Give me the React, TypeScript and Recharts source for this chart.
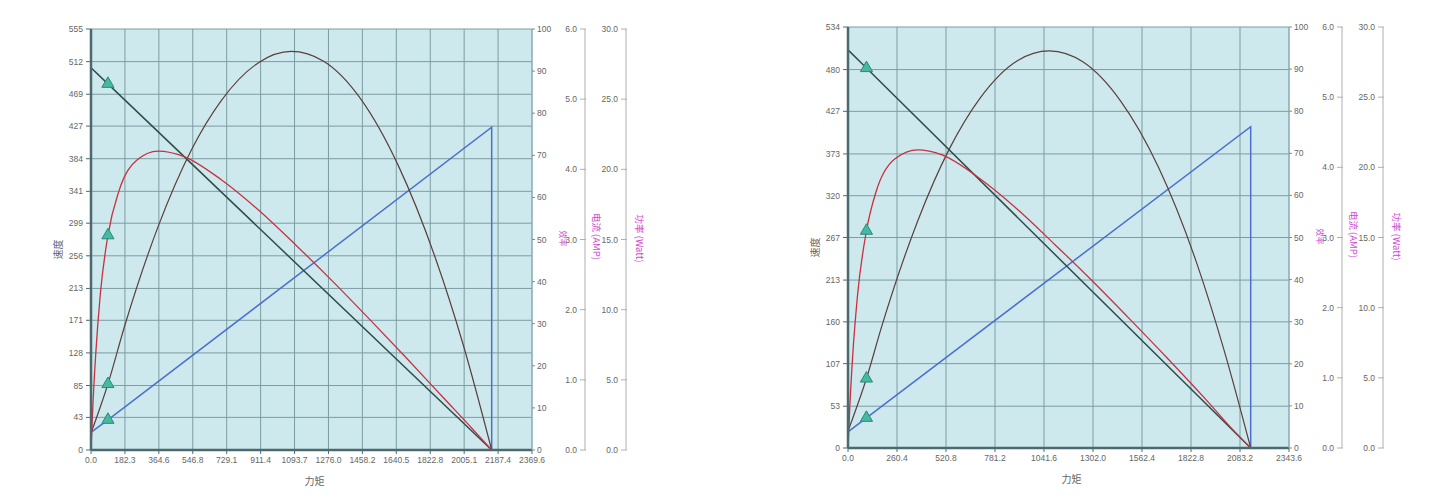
import React from "react";
import {
  ComposedChart,
  Line,
  Scatter,
  XAxis,
  YAxis,
  CartesianGrid,
  Label,
} from "recharts";

// shared right-hand scales
const effTicks = [0, 10, 20, 30, 40, 50, 60, 70, 80, 90, 100];
const currentTicks = [0, 1, 2, 3, 4, 5, 6];
const powerTicks = [0, 5, 10, 15, 20, 25, 30];

// ---- left chart ----
const torqueTicks1 = [0, 182.3, 364.6, 546.8, 729.1, 911.4, 1093.7, 1276.0, 1458.2, 1640.5, 1822.8, 2005.1, 2187.4, 2369.6];
const speedTicks1 = [0, 43, 85, 128, 171, 213, 256, 299, 341, 384, 427, 469, 512, 555];

const speed1 = [{ t: 0, v: 504 }, { t: 91, v: 482.7 }, { t: 2153, v: 0 }];
const current1 = [{ t: 0, v: 0.25 }, { t: 91, v: 0.43 }, { t: 2153, v: 4.6 }, { t: 2153, v: 0 }];
const eff1 = [
  { t: 0, v: 0 }, { t: 10, v: 10.5 }, { t: 25, v: 22.5 }, { t: 50, v: 37 },
  { t: 91, v: 51 }, { t: 150, v: 61.5 }, { t: 250, v: 69 }, { t: 360, v: 71 },
  { t: 500, v: 69.7 }, { t: 700, v: 64.2 }, { t: 900, v: 57 }, { t: 1100, v: 48.7 },
  { t: 1300, v: 40 }, { t: 1500, v: 30.9 }, { t: 1700, v: 21.6 }, { t: 1900, v: 12.1 },
  { t: 2050, v: 5 }, { t: 2153, v: 0 },
];
const power1 = [
  { t: 0, v: 1.2 }, { t: 91, v: 4.7 }, { t: 180, v: 8.8 }, { t: 360, v: 15.9 },
  { t: 540, v: 21.4 }, { t: 700, v: 24.9 }, { t: 900, v: 27.6 }, { t: 1076, v: 28.4 },
  { t: 1250, v: 27.7 }, { t: 1450, v: 25 }, { t: 1650, v: 20.3 }, { t: 1850, v: 13.7 },
  { t: 2000, v: 7.5 }, { t: 2153, v: 0 },
];
const marks1 = { speed: [{ t: 91, v: 482.7 }], eff: [{ t: 91, v: 51 }], power: [{ t: 91, v: 4.7 }], current: [{ t: 91, v: 0.43 }] };

// ---- right chart ----
const torqueTicks2 = [0, 260.4, 520.8, 781.2, 1041.6, 1302.0, 1562.4, 1822.8, 2083.2, 2343.6];
const speedTicks2 = [0, 53, 107, 160, 213, 267, 320, 373, 427, 480, 534];

const speed2 = [{ t: 0, v: 505 }, { t: 98, v: 481.9 }, { t: 2140, v: 0 }];
const current2 = [{ t: 0, v: 0.23 }, { t: 98, v: 0.43 }, { t: 2140, v: 4.58 }, { t: 2140, v: 0 }];
const eff2 = [
  { t: 0, v: 0 }, { t: 10, v: 10.2 }, { t: 25, v: 22 }, { t: 50, v: 36 },
  { t: 98, v: 51.6 }, { t: 150, v: 61 }, { t: 250, v: 68.7 }, { t: 371, v: 70.8 },
  { t: 500, v: 69.6 }, { t: 700, v: 64 }, { t: 900, v: 56.7 }, { t: 1100, v: 48.3 },
  { t: 1300, v: 39.6 }, { t: 1500, v: 30.5 }, { t: 1700, v: 21.2 }, { t: 1900, v: 11.6 },
  { t: 2040, v: 4.6 }, { t: 2140, v: 0 },
];
const power2 = [
  { t: 0, v: 1.2 }, { t: 98, v: 4.95 }, { t: 180, v: 8.7 }, { t: 371, v: 16.2 },
  { t: 540, v: 21.35 }, { t: 700, v: 24.9 }, { t: 900, v: 27.6 }, { t: 1070, v: 28.3 },
  { t: 1250, v: 27.5 }, { t: 1450, v: 24.7 }, { t: 1650, v: 20 }, { t: 1850, v: 13.3 },
  { t: 2000, v: 6.9 }, { t: 2140, v: 0 },
];
const marks2 = { speed: [{ t: 98, v: 481.9 }], eff: [{ t: 98, v: 51.6 }], power: [{ t: 98, v: 4.95 }], current: [{ t: 98, v: 0.43 }] };

const FONT = "'Liberation Sans', Arial, sans-serif";
const CJK = "'Noto Sans CJK SC', sans-serif";
const tickStyle = { fontSize: 8.5, fill: "#666", fontFamily: FONT };
const MAGENTA = "#d04ad0";

// axis ids sort in the order the right-hand axes stack outward
const EFF = "r1eff";
const CUR = "r2cur";
const POW = "r3pow";

// axis title drawn relative to the axis band
const title =
  (text: string, dx: number, dy: number, angle: number, color: string, size: number) =>
  (props: any) => {
    const { x, y, height } = props.viewBox;
    const cx = x + dx;
    const cy = y + height / 2 + dy;
    return (
      <text
        x={cx}
        y={cy}
        transform={`rotate(${angle} ${cx} ${cy})`}
        textAnchor="middle"
        dominantBaseline="central"
        fill={color}
        fontSize={size}
        fontFamily={CJK}
      >
        {text}
      </text>
    );
  };

const xTitle = (props: any) => {
  const { x, y, width } = props.viewBox;
  return (
    <text x={x + width / 2 + 3} y={y + 30} textAnchor="middle" dominantBaseline="central" fill="#666" fontSize={10} fontFamily={CJK}>
      力矩
    </text>
  );
};

// right-side axes whose labels sit to the left of their line
const LeftTick = (props: any) => {
  const { x, y, payload } = props;
  return (
    <g>
      <line x1={x - 5} y1={y} x2={x + 1} y2={y} stroke="#b0b0b0" />
      <text x={x - 8} y={y} textAnchor="end" dominantBaseline="central" {...tickStyle}>
        {Number(payload.value).toFixed(1)}
      </text>
    </g>
  );
};

interface Props {
  torqueTicks: number[];
  speedTicks: number[];
  speed: { t: number; v: number }[];
  current: { t: number; v: number }[];
  eff: { t: number; v: number }[];
  power: { t: number; v: number }[];
  marks: Record<string, { t: number; v: number }[]>;
}

const MotorChart: React.FC<Props> = ({ torqueTicks, speedTicks, speed, current, eff, power, marks }) => {
  const xMax = torqueTicks[torqueTicks.length - 1];
  const yMax = speedTicks[speedTicks.length - 1];
  const triangle = { fill: "#45b9a2", stroke: "#2b8a78", strokeWidth: 1 };
  return (
    <ComposedChart width={700} height={498} margin={{ top: 29, right: 33, bottom: 8, left: 30 }}>
      <CartesianGrid fill="#cde9ee" stroke="#7b9da2" strokeWidth={1} yAxisId="speed" />
      <XAxis
        type="number"
        dataKey="t"
        domain={[0, xMax]}
        ticks={torqueTicks}
        tickFormatter={(v: number) => v.toFixed(1)}
        height={40}
        tick={tickStyle}
        tickSize={4}
        tickMargin={3}
        interval={0}
        axisLine={{ stroke: "#4c6a6d", strokeWidth: 2.5 }}
        tickLine={{ stroke: "#4c6a6d" }}
      >
        <Label content={xTitle} />
      </XAxis>
      <YAxis
        yAxisId="speed"
        domain={[0, yMax]}
        ticks={speedTicks}
        width={61}
        tick={tickStyle}
        tickSize={5}
        tickMargin={3}
        interval={0}
        axisLine={{ stroke: "#4c6a6d", strokeWidth: 2.5 }}
        tickLine={{ stroke: "#4c6a6d" }}
      >
        <Label content={title("速度", 27, 10, -90, "#666", 10)} />
      </YAxis>
      <YAxis
        yAxisId={EFF}
        orientation="right"
        domain={[0, 100]}
        ticks={effTicks}
        width={53}
        tick={tickStyle}
        tickSize={3}
        tickMargin={2}
        interval={0}
        axisLine={{ stroke: "#8fb0b4" }}
        tickLine={{ stroke: "#888" }}
      >
        <Label content={title("效率", 31, -1, 90, MAGENTA, 8)} />
      </YAxis>
      <YAxis
        yAxisId={CUR}
        orientation="right"
        domain={[0, 6]}
        ticks={currentTicks}
        width={41}
        tick={<LeftTick />}
        tickSize={0}
        tickMargin={0}
        interval={0}
        axisLine={{ stroke: "#cacaca", strokeWidth: 1.5 }}
        tickLine={false}
      >
        <Label content={title("电流 (AMP)", 12, -3, 90, MAGENTA, 9.5)} />
      </YAxis>
      <YAxis
        yAxisId={POW}
        orientation="right"
        domain={[0, 30]}
        ticks={powerTicks}
        width={41}
        tick={<LeftTick />}
        tickSize={0}
        tickMargin={0}
        interval={0}
        axisLine={{ stroke: "#cacaca", strokeWidth: 1.5 }}
        tickLine={false}
      >
        <Label content={title("功率 (Watt)", 14, -1, 90, MAGENTA, 9.5)} />
      </YAxis>

      <Line yAxisId={CUR} data={current} dataKey="v" type="linear" stroke="#4a6fd0" strokeWidth={1.5} dot={false} isAnimationActive={false} />
      <Line yAxisId={POW} data={power} dataKey="v" type="monotone" stroke="#5a3f3a" strokeWidth={1.2} dot={false} isAnimationActive={false} />
      <Line yAxisId="speed" data={speed} dataKey="v" type="linear" stroke="#2f4d4a" strokeWidth={1.5} dot={false} isAnimationActive={false} />
      <Line yAxisId={EFF} data={eff} dataKey="v" type="monotone" stroke="#c8303e" strokeWidth={1.3} dot={false} isAnimationActive={false} />

      <Scatter yAxisId="speed" data={marks.speed} dataKey="v" shape="triangle" {...triangle} isAnimationActive={false} />
      <Scatter yAxisId={EFF} data={marks.eff} dataKey="v" shape="triangle" {...triangle} isAnimationActive={false} />
      <Scatter yAxisId={POW} data={marks.power} dataKey="v" shape="triangle" {...triangle} isAnimationActive={false} />
      <Scatter yAxisId={CUR} data={marks.current} dataKey="v" shape="triangle" {...triangle} isAnimationActive={false} />
    </ComposedChart>
  );
};

export default function App() {
  return (
    <div style={{ position: "absolute", left: 0, top: 0, width: 1448, height: 498, background: "#fff", overflow: "hidden" }}>
      <div style={{ position: "absolute", left: 0, top: 0 }}>
        <MotorChart torqueTicks={torqueTicks1} speedTicks={speedTicks1} speed={speed1} current={current1} eff={eff1} power={power1} marks={marks1} />
      </div>
      <div style={{ position: "absolute", left: 757, top: -2 }}>
        <MotorChart torqueTicks={torqueTicks2} speedTicks={speedTicks2} speed={speed2} current={current2} eff={eff2} power={power2} marks={marks2} />
      </div>
    </div>
  );
}
